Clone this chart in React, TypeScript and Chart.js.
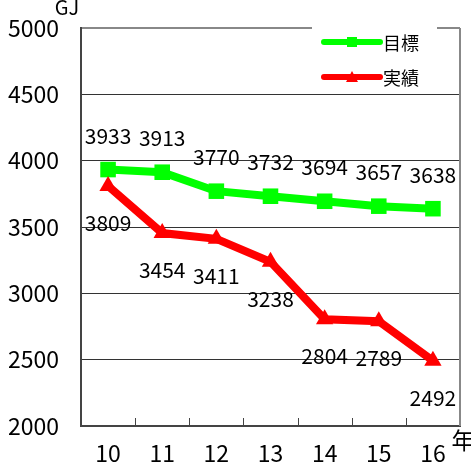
import React, { useEffect, useRef } from "react";
import { Chart, registerables } from "chart.js";
Chart.register(...registerables);

const years = ["10", "11", "12", "13", "14", "15", "16"];
const targetValues = [3933, 3913, 3770, 3732, 3694, 3657, 3638];
const actualValues = [3809, 3454, 3411, 3238, 2804, 2789, 2492];
const yTicks = [2000, 2500, 3000, 3500, 4000, 4500, 5000];
const seriesNames = ["目標", "実績"];
const yUnit = "GJ";
const xUnit = "年";

const FONT = '"Noto Sans CJK JP", "Liberation Sans", sans-serif';
const GREEN = "#00ff00";
const RED = "#ff0000";

const decorPlugin = {
  id: "decor",
  afterDatasetsDraw(chart: any) {
    const { ctx, chartArea } = chart;
    const xs = chart.scales.x;
    ctx.save();
    // right border
    ctx.strokeStyle = "#888";
    ctx.lineWidth = 2;
    ctx.beginPath();
    ctx.moveTo(chartArea.right, chartArea.top);
    ctx.lineTo(chartArea.right, chartArea.bottom);
    ctx.stroke();
    // x tick marks (inward)
    ctx.strokeStyle = "#444";
    ctx.lineWidth = 1;
    for (let i = 1; i < years.length; i++) {
      const bx = Math.round((xs.getPixelForValue(i - 1) + xs.getPixelForValue(i)) / 2) + 0.5;
      ctx.beginPath();
      ctx.moveTo(bx, chartArea.bottom);
      ctx.lineTo(bx, chartArea.bottom - 8);
      ctx.stroke();
    }
    // data labels
    ctx.fillStyle = "#000";
    ctx.font = `21px ${FONT}`;
    ctx.textAlign = "center";
    ctx.textBaseline = "middle";
    const m0 = chart.getDatasetMeta(0);
    const m1 = chart.getDatasetMeta(1);
    m0.data.forEach((p: any, i: number) => {
      ctx.fillText(String(targetValues[i]), p.x, p.y - 34);
    });
    m1.data.forEach((p: any, i: number) => {
      ctx.fillText(String(actualValues[i]), p.x, p.y + 37);
    });
    // legend
    const lx = chartArea.right - 148;
    ctx.fillStyle = "#fff";
    ctx.fillRect(lx, chartArea.top - 8, 125, 64);
    const items = [
      { name: seriesNames[0], color: GREEN, style: "rect" },
      { name: seriesNames[1], color: RED, style: "tri" },
    ];
    items.forEach((it, k) => {
      const y = chartArea.top + 14 + k * 35;
      ctx.strokeStyle = it.color;
      ctx.fillStyle = it.color;
      ctx.lineWidth = 6;
      ctx.lineCap = "round";
      ctx.beginPath();
      ctx.moveTo(lx + 12, y);
      ctx.lineTo(lx + 68, y);
      ctx.stroke();
      const cx = lx + 40;
      if (it.style === "rect") {
        ctx.fillRect(cx - 5, y - 5, 10, 10);
      } else {
        ctx.beginPath();
        ctx.moveTo(cx, y - 6);
        ctx.lineTo(cx + 6, y + 5);
        ctx.lineTo(cx - 6, y + 5);
        ctx.closePath();
        ctx.fill();
      }
      ctx.fillStyle = "#000";
      ctx.font = `18px ${FONT}`;
      ctx.textAlign = "left";
      ctx.fillText(it.name, lx + 71, y + 1);
    });
    // units
    ctx.font = `20px ${FONT}`;
    ctx.textAlign = "center";
    ctx.fillText(yUnit, chartArea.left - 14, chartArea.top - 21);
    ctx.font = `23px ${FONT}`;
    ctx.fillText(xUnit, chartArea.right + 3, chartArea.bottom + 14);
    ctx.restore();
  },
};

export default function App() {
  const ref = useRef<HTMLCanvasElement>(null);
  useEffect(() => {
    if (!ref.current) return;
    const chart = new Chart(ref.current, {
      type: "line",
      data: {
        labels: years,
        datasets: [
          {
            label: seriesNames[0],
            data: targetValues,
            borderColor: GREEN,
            backgroundColor: GREEN,
            borderWidth: 8,
            pointStyle: "rect",
            pointRadius: 11,
            pointBorderWidth: 0,
            tension: 0,
            order: 2,
          },
          {
            label: seriesNames[1],
            data: actualValues,
            borderColor: RED,
            backgroundColor: RED,
            borderWidth: 8,
            pointStyle: "triangle",
            pointRadius: 10,
            pointBorderWidth: 0,
            tension: 0,
            order: 1,
          },
        ],
      },
      options: {
        responsive: false,
        animation: false,
        layout: { padding: { top: 28, right: 8, left: 0, bottom: 0 } },
        plugins: { legend: { display: false }, tooltip: { enabled: false } },
        scales: {
          x: {
            type: "category",
            offset: true,
            grid: { display: false, drawTicks: false },
            border: { display: true, color: "#444", width: 2 },
            ticks: { color: "#000", font: { size: 23, family: FONT }, padding: 13 },
            afterFit: (s: any) => {
              s.height = 40;
              s.paddingLeft = 0;
              s.paddingRight = 0;
            },
          },
          y: {
            min: 2000,
            max: 5000,
            afterBuildTicks: (s: any) => {
              s.ticks = yTicks.map((v) => ({ value: v }));
            },
            grid: {
              drawTicks: false,
              color: (c: any) => (c.tick && c.tick.value === 5000 ? "#888" : "#333"),
              lineWidth: (c: any) => (c.tick && c.tick.value === 5000 ? 2 : 1),
            },
            border: { display: true, color: "#444", width: 2 },
            ticks: {
              color: "#000",
              font: { size: 23, family: FONT },
              padding: 22,
              callback: (v: any) => String(v),
            },
            afterFit: (s: any) => {
              s.width = 81;
              s.paddingTop = 0;
              s.paddingBottom = 0;
            },
          },
        },
      },
      plugins: [decorPlugin],
    } as any);
    return () => chart.destroy();
  }, []);
  return (
    <div style={{ position: "absolute", left: 0, top: 0, width: 471, height: 466 }}>
      <canvas ref={ref} width={471} height={466} />
    </div>
  );
}
